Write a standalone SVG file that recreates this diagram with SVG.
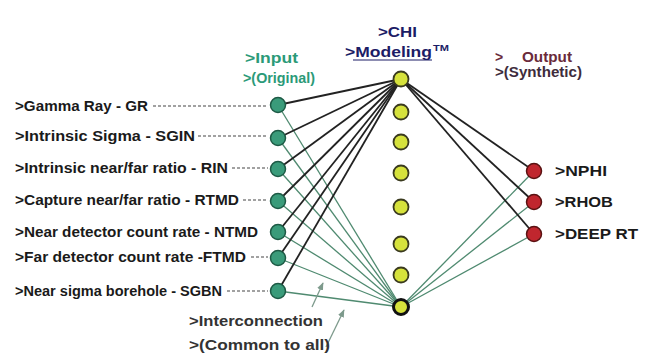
<svg xmlns="http://www.w3.org/2000/svg" width="649" height="360" viewBox="0 0 649 360">
<defs>
<style>
.lbl{font-family:"Liberation Sans",Arial,sans-serif;font-weight:bold;font-size:14px;fill:#1a1a1a}
.hdr{font-family:"Liberation Sans",Arial,sans-serif;font-weight:bold;font-size:14px}
.blk{stroke:#222;stroke-width:1.8;fill:none}
.grn{stroke:#4f8a70;stroke-width:1.3;fill:none}
.dash{stroke:#444;stroke-width:1.2;stroke-dasharray:3 2;fill:none}
.in{fill:#3a9b7a;stroke:#1d5a45;stroke-width:1.5}
.hid{fill:#d6e23c;stroke:#3a3a1e;stroke-width:1.8}
.out{fill:#c0262e;stroke:#5a1212;stroke-width:1.5}
.arr{stroke:#7d9a8c;stroke-width:1.3;fill:none}
</style>
<marker id="ah" viewBox="0 0 10 10" refX="9" refY="5" markerWidth="6" markerHeight="6" orient="auto">
<path d="M0,1 L10,5 L0,9 Z" fill="#7d9a8c"/>
</marker>
</defs>
<rect width="649" height="360" fill="#ffffff"/>

<g id="connectors">
<line class="dash" x1="153" y1="106" x2="268" y2="106"/>
<line class="dash" x1="198" y1="136" x2="268" y2="136"/>
<line class="dash" x1="232" y1="168" x2="268" y2="168"/>
<line class="dash" x1="243" y1="200" x2="268" y2="200"/>
<line class="dash" x1="251" y1="257" x2="268" y2="257"/>
<line class="dash" x1="227" y1="291" x2="268" y2="291"/>
<line class="grn" x1="278" y1="105" x2="401" y2="307"/>
<line class="grn" x1="278" y1="138" x2="401" y2="307"/>
<line class="grn" x1="278" y1="169" x2="401" y2="307"/>
<line class="grn" x1="278" y1="201" x2="401" y2="307"/>
<line class="grn" x1="278" y1="232" x2="401" y2="307"/>
<line class="grn" x1="278" y1="258" x2="401" y2="307"/>
<line class="grn" x1="278" y1="291" x2="401" y2="307"/>
<line class="grn" x1="401" y1="307" x2="534" y2="171"/>
<line class="grn" x1="401" y1="307" x2="534" y2="202"/>
<line class="grn" x1="401" y1="307" x2="534" y2="234"/>
<line class="blk" x1="278" y1="105" x2="401" y2="79"/>
<line class="blk" x1="278" y1="138" x2="401" y2="79"/>
<line class="blk" x1="278" y1="169" x2="401" y2="79"/>
<line class="blk" x1="278" y1="201" x2="401" y2="79"/>
<line class="blk" x1="278" y1="232" x2="401" y2="79"/>
<line class="blk" x1="278" y1="258" x2="401" y2="79"/>
<line class="blk" x1="278" y1="291" x2="401" y2="79"/>
<line class="blk" x1="401" y1="79" x2="534" y2="171"/>
<line class="blk" x1="401" y1="79" x2="534" y2="202"/>
<line class="blk" x1="401" y1="79" x2="534" y2="234"/>
<line class="arr" x1="312" y1="307" x2="323" y2="283" marker-end="url(#ah)"/>
<line class="arr" x1="326" y1="347" x2="344" y2="310" marker-end="url(#ah)"/>
</g>

<g id="input-nodes">
<g id="in-gr"><circle class="in" cx="278" cy="105" r="7.5"/><text class="lbl" x="15" y="111" textLength="133" lengthAdjust="spacingAndGlyphs">&gt;Gamma Ray - GR</text></g>
<g id="in-sgin"><circle class="in" cx="278" cy="138" r="7.5"/><text class="lbl" x="15" y="141" textLength="180" lengthAdjust="spacingAndGlyphs">&gt;Intrinsic Sigma - SGIN</text></g>
<g id="in-rin"><circle class="in" cx="278" cy="169" r="7.5"/><text class="lbl" x="15" y="173" textLength="213" lengthAdjust="spacingAndGlyphs">&gt;Intrinsic near/far ratio - RIN</text></g>
<g id="in-rtmd"><circle class="in" cx="278" cy="201" r="7.5"/><text class="lbl" x="15" y="205" textLength="224" lengthAdjust="spacingAndGlyphs">&gt;Capture near/far ratio - RTMD</text></g>
<g id="in-ntmd"><circle class="in" cx="278" cy="232" r="7.5"/><text class="lbl" x="15" y="237" textLength="243" lengthAdjust="spacingAndGlyphs">&gt;Near detector count rate - NTMD</text></g>
<g id="in-ftmd"><circle class="in" cx="278" cy="258" r="7.5"/><text class="lbl" x="15" y="262" textLength="231" lengthAdjust="spacingAndGlyphs">&gt;Far detector count rate -FTMD</text></g>
<g id="in-sgbn"><circle class="in" cx="278" cy="291" r="7.5"/><text class="lbl" x="15" y="296" textLength="207" lengthAdjust="spacingAndGlyphs">&gt;Near sigma borehole - SGBN</text></g>
</g>

<g id="hidden-nodes">
<circle id="h1" class="hid" cx="401" cy="79" r="7.5"/>
<circle id="h2" class="hid" cx="401" cy="112" r="7.5"/>
<circle id="h3" class="hid" cx="401" cy="142" r="7.5"/>
<circle id="h4" class="hid" cx="401" cy="173" r="7.5"/>
<circle id="h5" class="hid" cx="401" cy="207" r="7.5"/>
<circle id="h6" class="hid" cx="401" cy="244" r="7.5"/>
<circle id="h7" class="hid" cx="401" cy="275" r="7.5"/>
<circle id="h8" class="hid" cx="401" cy="307" r="7.5" style="stroke:#111;stroke-width:3"/>
</g>

<g id="output-nodes">
<g id="out-nphi"><circle class="out" cx="534" cy="171" r="7.5"/><text class="lbl" x="555" y="176" textLength="52" lengthAdjust="spacingAndGlyphs">&gt;NPHI</text></g>
<g id="out-rhob"><circle class="out" cx="534" cy="202" r="7.5"/><text class="lbl" x="555" y="207" textLength="58" lengthAdjust="spacingAndGlyphs">&gt;RHOB</text></g>
<g id="out-deep"><circle class="out" cx="534" cy="234" r="7.5"/><text class="lbl" x="555" y="239" textLength="83" lengthAdjust="spacingAndGlyphs">&gt;DEEP RT</text></g>
</g>

<g id="headers">
<text class="hdr" x="245" y="63" fill="#2b9a78" textLength="53" lengthAdjust="spacingAndGlyphs">&gt;Input</text>
<text class="hdr" x="243" y="83" fill="#2b9a78" textLength="72" lengthAdjust="spacingAndGlyphs">&gt;(Original)</text>
<text class="hdr" x="378" y="37" fill="#1c1c66" textLength="39" lengthAdjust="spacingAndGlyphs">&gt;CHI</text>
<text class="hdr" x="345" y="57" fill="#1c1c66" textLength="87" lengthAdjust="spacingAndGlyphs">&gt;Modeling</text>
<line x1="353" y1="60" x2="432" y2="60" stroke="#1c1c66" stroke-width="1.2"/>
<text class="hdr" x="433" y="51" fill="#1c1c66" style="font-size:9px" textLength="16" lengthAdjust="spacingAndGlyphs">TM</text>
<text class="hdr" x="495" y="62" fill="#6a2a3a">&gt;</text>
<text class="hdr" x="522" y="62" fill="#6a2a3a" textLength="50" lengthAdjust="spacingAndGlyphs">Output</text>
<text class="hdr" x="495" y="77" fill="#3e2c3c" textLength="87" lengthAdjust="spacingAndGlyphs">&gt;(Synthetic)</text>
</g>

<g id="interconnection-label">
<text class="hdr" x="189" y="326" fill="#333" style="font-size:15px" textLength="134" lengthAdjust="spacingAndGlyphs">&gt;Interconnection</text>
<text class="hdr" x="189" y="350" fill="#333" style="font-size:15px" textLength="141" lengthAdjust="spacingAndGlyphs">&gt;(Common to all)</text>
</g>
</svg>
